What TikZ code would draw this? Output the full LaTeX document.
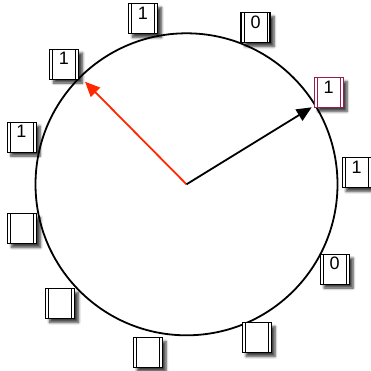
\documentclass[tikz,border=0pt]{standalone}
\usepackage{fontspec}
\setmainfont{Liberation Sans}
\usetikzlibrary{arrows.meta,shadows.blur}
\definecolor{hredc}{RGB}{255,40,0}
\definecolor{pinkc}{RGB}{150,30,80}
\tikzset{
  cell/.style={draw=#1, line width=0.8pt, fill=white,
    minimum width=29pt, minimum height=30pt, inner sep=0pt,
    text height=15.5pt, text depth=14.5pt,
    font=\fontsize{18}{18}\selectfont,
    blur shadow={shadow xshift=4pt, shadow yshift=-4pt, shadow blur steps=6, shadow blur radius=2.5pt, shadow opacity=75},
    path picture={
      \draw[#1, line width=0.8pt]
        ([xshift=3pt]path picture bounding box.north west) -- ([xshift=3pt]path picture bounding box.south west)
        ([xshift=-3pt]path picture bounding box.north east) -- ([xshift=-3pt]path picture bounding box.south east);
    }},
  cell/.default=black,
  ptr/.style={line width=1.8pt, -{Triangle[length=15pt,width=13pt]}}
}
\begin{document}
\begin{tikzpicture}[x=1pt,y=-1pt]
\useasboundingbox (0,0) rectangle (371,370);
\coordinate (c) at (186.5,184.3);
\node[circle, draw, line width=1.8pt, minimum size=302pt, inner sep=0pt] (ring) at (c) {};
\node[cell] (b1) at (143,18.5) {1};
\node[cell, line width=1.6pt] (b2) at (255.5,27.5) {0};
\node[cell=pinkc] (b3) at (328.5,92.5) {1};
\node[cell] (b4) at (356.5,172.5) {1};
\node[cell] (b5) at (334.5,269) {0};
\node[cell] (b6) at (256.5,337.5) {};
\node[cell] (b7) at (147.5,352.5) {};
\node[cell] (b8) at (60,303.5) {};
\node[cell] (b9) at (22,228.5) {};
\node[cell] (b10) at (21.5,137) {1};
\node[cell] (b11) at (64,64) {1};
\coordinate (rt) at (85,81.7);
\coordinate (bt) at (311.7,107.3);
\draw[ptr, hredc] (c) -- (rt);
\draw[ptr, black] (c) -- (bt);
\end{tikzpicture}
\end{document}
